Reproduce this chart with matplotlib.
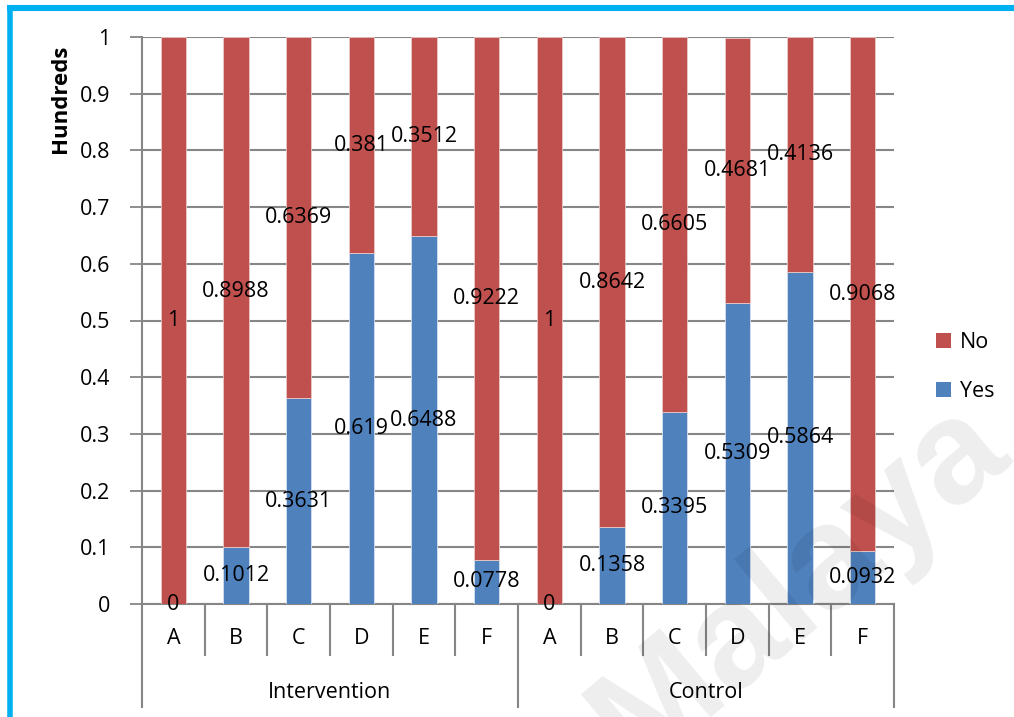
import matplotlib
matplotlib.use('Agg')
import matplotlib.pyplot as plt
import matplotlib.transforms as mtransforms
from matplotlib.lines import Line2D
from matplotlib.patches import Patch
import numpy as np

plt.rcParams['font.family'] = ['Open Sans', 'DejaVu Sans']

groups = ['Intervention', 'Control']
categories = ['A', 'B', 'C', 'D', 'E', 'F']
yes_intervention = [0, 0.1012, 0.3631, 0.619, 0.6488, 0.0778]
no_intervention = [1, 0.8988, 0.6369, 0.381, 0.3512, 0.9222]
yes_control = [0, 0.1358, 0.3395, 0.5309, 0.5864, 0.0932]
no_control = [1, 0.8642, 0.6605, 0.4681, 0.4136, 0.9068]
y_ticks = [0, 0.1, 0.2, 0.3, 0.4, 0.5, 0.6, 0.7, 0.8, 0.9, 1]

RED = '#C0504D'
BLUE = '#4F81BD'
GRID = '#868686'
FS = 15.5

yes_vals = np.array(yes_intervention + yes_control)
no_vals = np.array(no_intervention + no_control)
n = len(yes_vals)
x = np.arange(n)

W, H = 1014, 717
fig = plt.figure(figsize=(W / 100, H / 100), dpi=100)
ax = fig.add_axes([142 / W, 1 - 604 / H, (894 - 142) / W, (604 - 37) / H])

ax.bar(x, yes_vals, width=0.4, color=BLUE, edgecolor='#D6E0EE', linewidth=0.6, zorder=3)
ax.bar(x, no_vals, width=0.4, bottom=yes_vals, color=RED, edgecolor='#EBC9C8', linewidth=0.6, zorder=3)

# value labels at the middle of each segment
for i in range(n):
    ax.text(x[i], yes_vals[i] / 2, f'{yes_vals[i]:g}', ha='center', va='center',
            fontsize=FS, color='black', zorder=6)
    ax.text(x[i], yes_vals[i] + no_vals[i] / 2, f'{no_vals[i]:g}', ha='center', va='center',
            fontsize=FS, color='black', zorder=6)

ax.set_xlim(-0.5, n - 0.5)
ax.set_ylim(0, 1)
ax.set_yticks(y_ticks)
ax.set_yticklabels([f'{t:g}' for t in y_ticks], fontsize=FS)
ax.tick_params(axis='y', length=9, width=1.3, color=GRID, pad=14)
ax.set_xticks([])
ax.grid(axis='y', color=GRID, linewidth=1.5, zorder=0)
ax.set_axisbelow(True)
for side in ['top', 'right']:
    ax.spines[side].set_visible(False)
for side in ['left', 'bottom']:
    ax.spines[side].set_color(GRID)
    ax.spines[side].set_linewidth(1.5)

# two-level category axis
trans = mtransforms.blended_transform_factory(ax.transData, ax.transAxes)
inner_depth = -51 / 567
outer_depth = -103 / 567
for b in np.arange(-0.5, n, 1.0):
    depth = outer_depth if (b + 0.5) % len(categories) == 0 else inner_depth
    ax.plot([b, b], [0, depth], transform=trans, color=GRID, linewidth=1.5,
            clip_on=False, zorder=1)
for i in range(n):
    ax.text(x[i], -34 / 567, categories[i % len(categories)], transform=trans,
            ha='center', va='center', fontsize=FS)
for g, name in enumerate(groups):
    center = g * len(categories) + (len(categories) - 1) / 2
    ax.text(center, -88 / 567, name, transform=trans, ha='center', va='center', fontsize=FS)

fig.text(61 / W, 1 - 99 / H, 'Hundreds', rotation=90, ha='center', va='center',
         fontsize=16, fontweight='bold')

handles = [Patch(facecolor=RED), Patch(facecolor=BLUE)]
fig.legend(handles, ['No', 'Yes'], loc='center left', bbox_to_anchor=(917 / W, 1 - 367 / H),
           frameon=False, fontsize=FS, handlelength=0.7, handleheight=0.7,
           handletextpad=0.4, labelspacing=1.3)

# faint watermark
fig.text(800 / W, 1 - 585 / H, 'Malaya', rotation=40, ha='center', va='center',
         fontsize=106, family='Liberation Sans', fontweight='bold', color='black',
         alpha=0.07, zorder=10)

# cyan frame on top and left
fig.add_artist(Line2D([7 / W, 1], [1 - 8 / H, 1 - 8 / H], color='#00B0F0', linewidth=4.4,
                      solid_capstyle='butt', transform=fig.transFigure))
fig.add_artist(Line2D([9.5 / W, 9.5 / W], [0, 1 - 5 / H], color='#00B0F0', linewidth=4.0,
                      solid_capstyle='butt', transform=fig.transFigure))

fig.savefig('out.png', dpi=100)
